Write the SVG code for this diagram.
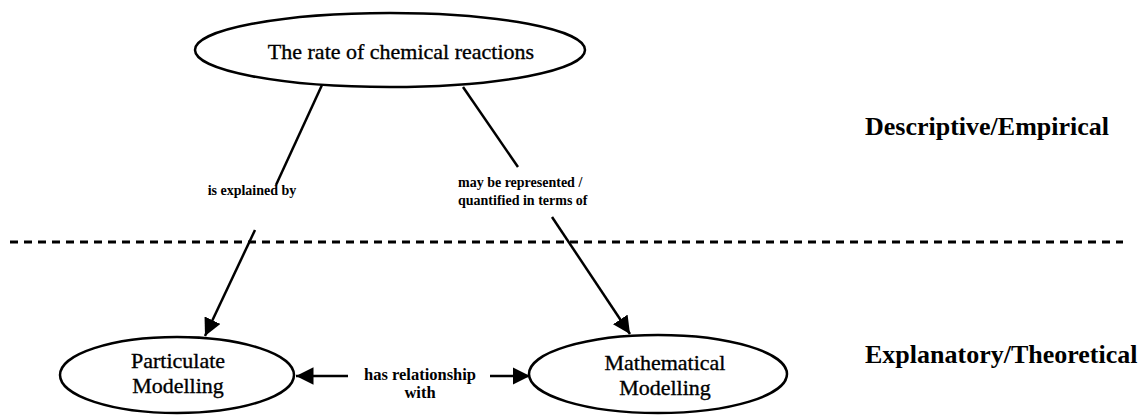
<svg xmlns="http://www.w3.org/2000/svg" width="1146" height="415" viewBox="0 0 1146 415">
<style>
.node{fill:#fff;stroke:#000;stroke-width:2.5}
.t{font-family:"Liberation Serif","Times New Roman",serif;font-size:22px;fill:#000;stroke:#000;stroke-width:0.35;text-anchor:middle}
.lbl{font-family:"Liberation Serif","Times New Roman",serif;font-size:14px;font-weight:bold;fill:#000}
.lbl2{font-family:"Liberation Serif","Times New Roman",serif;font-size:16.5px;font-weight:bold;fill:#000;text-anchor:middle}
.side{font-family:"Liberation Serif","Times New Roman",serif;font-size:26px;font-weight:bold;fill:#000}
.c{stroke:#000;stroke-width:2.5;fill:none}
</style>
<defs>
<marker id="ahb" viewBox="0 0 10 10" refX="10" refY="5" markerWidth="7" markerHeight="7" orient="auto">
<path d="M0,0 L10,5 L0,10 z" fill="#000"/>
</marker>
</defs>
<rect width="1146" height="415" fill="#fff"/>
<g id="divider">
<line x1="10" y1="242" x2="1123" y2="242" stroke="#000" stroke-width="3" stroke-dasharray="8 6"/>
</g>
<g id="connectors">
<line class="c" x1="322" y1="85" x2="276" y2="185"/>
<line class="c" x1="255" y1="230" x2="205" y2="336" marker-end="url(#ahb)"/>
<line class="c" x1="463" y1="87" x2="518" y2="167"/>
<line class="c" x1="552" y1="217" x2="630" y2="334" marker-end="url(#ahb)"/>
<line class="c" x1="348" y1="376" x2="296" y2="376" marker-end="url(#ahb)"/>
<line class="c" x1="490" y1="376" x2="530" y2="376" marker-end="url(#ahb)"/>
<text class="lbl" x="252" y="195" text-anchor="middle">is explained by</text>
<text class="lbl" x="458" y="187">may be represented /</text>
<text class="lbl" x="458" y="205">quantified in terms of</text>
<text class="lbl2" x="420" y="380">has relationship</text>
<text class="lbl2" x="420" y="398">with</text>
</g>
<g id="node-rate">
<ellipse class="node" cx="390" cy="50" rx="195" ry="37"/>
<text class="t" x="401" y="59">The rate of chemical reactions</text>
</g>
<g id="node-particulate">
<ellipse class="node" cx="177" cy="375" rx="117" ry="38"/>
<text class="t" x="178" y="368">Particulate</text>
<text class="t" x="178" y="393">Modelling</text>
</g>
<g id="node-mathematical">
<ellipse class="node" cx="658" cy="374" rx="129" ry="39"/>
<text class="t" x="665" y="370">Mathematical</text>
<text class="t" x="665" y="395">Modelling</text>
</g>
<g id="node-descriptive">
<text class="side" x="865" y="135">Descriptive/Empirical</text>
</g>
<g id="node-explanatory">
<text class="side" x="865" y="363">Explanatory/Theoretical</text>
</g>
</svg>
